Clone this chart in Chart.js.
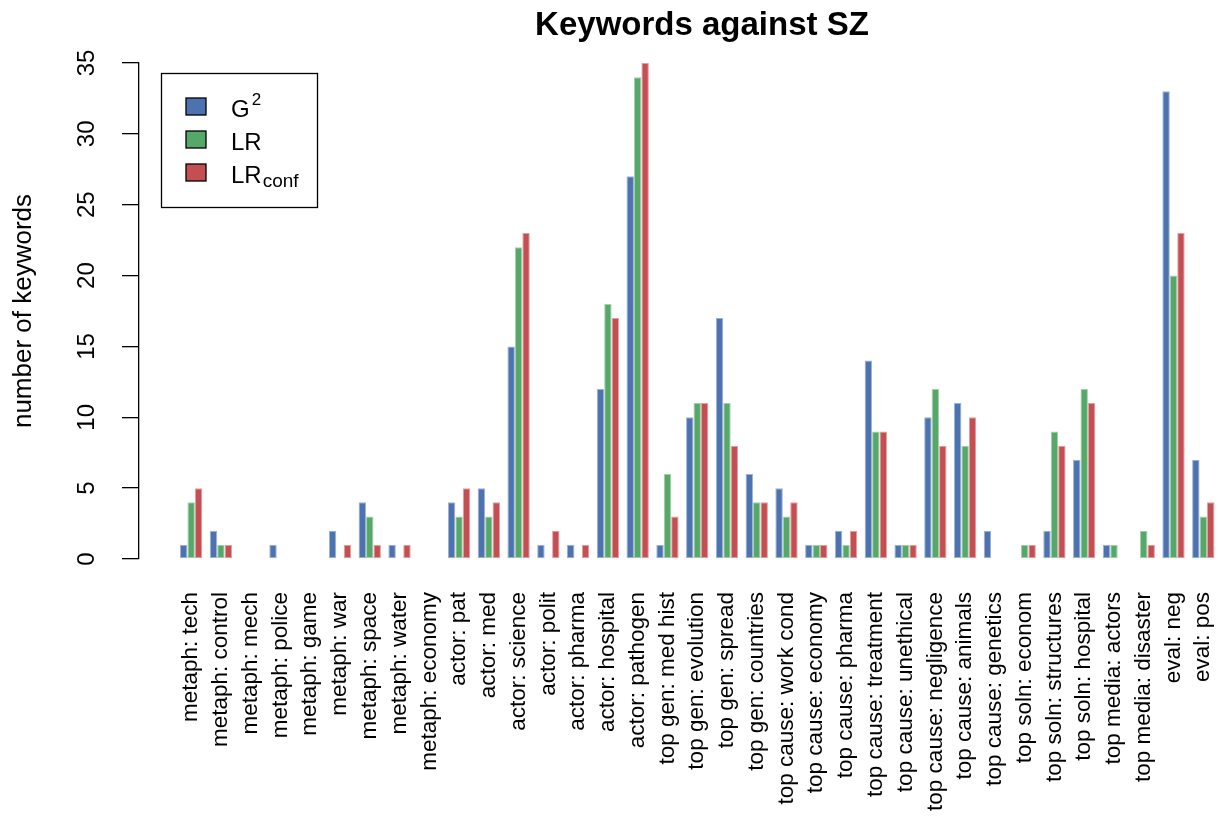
<!DOCTYPE html>
<html>
<head>
<meta charset="utf-8">
<title>Keywords against SZ</title>
<script src="https://cdn.jsdelivr.net/npm/chart.js@4/dist/chart.umd.min.js"></script>
<style>
  html, body { margin: 0; padding: 0; background: #ffffff; overflow: hidden; }
  #wrap { width: 1219px; height: 817px; }
</style>
</head>
<body>
<div id="wrap"><canvas id="chart" width="1219" height="817"></canvas></div>
<script>
// Keyword categories (x axis)
const categories = [
  'metaph: tech', 'metaph: control', 'metaph: mech', 'metaph: police', 'metaph: game',
  'metaph: war', 'metaph: space', 'metaph: water', 'metaph: economy',
  'actor: pat', 'actor: med', 'actor: science', 'actor: polit', 'actor: pharma',
  'actor: hospital', 'actor: pathogen',
  'top gen: med hist', 'top gen: evolution', 'top gen: spread', 'top gen: countries',
  'top cause: work cond', 'top cause: economy', 'top cause: pharma', 'top cause: treatment',
  'top cause: unethical', 'top cause: negligence', 'top cause: animals', 'top cause: genetics',
  'top soln: econom', 'top soln: structures', 'top soln: hospital',
  'top media: actors', 'top media: disaster',
  'eval: neg', 'eval: pos'
];

// Number of keywords per category for each measure
const g2Values     = [1, 2, 0, 1, 0, 2, 4, 1, 0, 4, 5, 15, 1, 1, 12, 27, 1, 10, 17, 6, 5, 1, 2, 14, 1, 10, 11, 2, 0, 2, 7, 1, 0, 33, 7];
const lrValues     = [4, 1, 0, 0, 0, 0, 3, 0, 0, 3, 3, 22, 0, 0, 18, 34, 6, 11, 11, 4, 3, 1, 1, 9, 1, 12, 8, 0, 1, 9, 12, 1, 2, 20, 3];
const lrConfValues = [5, 1, 0, 0, 0, 1, 1, 1, 0, 5, 4, 23, 2, 1, 17, 35, 3, 11, 8, 4, 4, 1, 2, 9, 1, 8, 10, 0, 1, 8, 11, 0, 1, 23, 4];

// Legend entries: main text plus optional superscript / subscript
const seriesNames = [
  { main: 'G', sup: '2' },
  { main: 'LR' },
  { main: 'LR', sub: 'conf' }
];

// Value axis
const yMin = 0;
const yMax = 35;
const yStep = 5;

const chartTitle = 'Keywords against SZ';
const yAxisTitle = 'number of keywords';

const FONT = "'Liberation Sans', Arial, Helvetica, sans-serif";
const COLORS = ['#4C72B0', '#55A868', '#C44E52'];
const EDGES  = ['#9db2d4', '#a3cfad', '#dfa1a1'];

Chart.defaults.font.family = FONT;
Chart.defaults.color = '#000000';

const toPoints = arr => arr.map((v, i) => ({ x: i, y: v }));

// Bold plot title
const plotTitle = {
  id: 'plotTitle',
  afterDraw(chart) {
    const c = chart.ctx;
    c.save();
    c.font = `bold 33px ${FONT}`;
    c.fillStyle = '#000';
    c.textAlign = 'center';
    c.textBaseline = 'alphabetic';
    c.fillText(chartTitle, 702, 35);
    c.restore();
  }
};

// Boxed legend with sub/superscripted labels
const boxLegend = {
  id: 'boxLegend',
  afterDraw(chart) {
    const c = chart.ctx;
    const bx = 161, by = 73, bw = 156, bh = 134;
    c.save();
    c.fillStyle = '#ffffff';
    c.fillRect(bx, by, bw, bh);
    c.lineWidth = 1.3;
    c.strokeStyle = '#000';
    c.strokeRect(bx + 0.5, by + 0.5, bw, bh);
    chart.data.datasets.forEach((ds, i) => {
      const cy = 106.5 + i * 33;
      c.fillStyle = ds.backgroundColor;
      c.fillRect(186, cy - 8.5, 20, 17);
      c.lineWidth = 1.3;
      c.strokeStyle = '#000';
      c.strokeRect(186, cy - 8.5, 20, 17);
      const entry = seriesNames[i];
      const base = cy + 10;
      c.fillStyle = '#000';
      c.textAlign = 'left';
      c.textBaseline = 'alphabetic';
      c.font = `24px ${FONT}`;
      c.fillText(entry.main, 231, base);
      const w = c.measureText(entry.main).width;
      if (entry.sup) {
        c.font = `17px ${FONT}`;
        c.fillText(entry.sup, 231 + w + 2, base - 12);
      }
      if (entry.sub) {
        c.font = `19px ${FONT}`;
        c.fillText(entry.sub, 231 + w + 1, base + 4);
      }
    });
    c.restore();
  }
};

const makeSet = (label, values, i) => ({
  label,
  data: toPoints(values),
  backgroundColor: COLORS[i],
  borderColor: EDGES[i],
  borderWidth: 1,
  borderSkipped: false
});

new Chart(document.getElementById('chart'), {
  type: 'bar',
  data: {
    datasets: [
      makeSet('G2', g2Values, 0),
      makeSet('LR', lrValues, 1),
      makeSet('LRconf', lrConfValues, 2)
    ]
  },
  options: {
    responsive: false,
    animation: false,
    devicePixelRatio: 1,
    categoryPercentage: 0.75,
    barPercentage: 1,
    layout: { padding: { top: 63, left: 0, right: 0, bottom: 0 } },
    plugins: {
      legend: { display: false },
      title: { display: false },
      tooltip: { enabled: false }
    },
    scales: {
      x: {
        type: 'linear',
        bounds: 'data',
        min: -1.752,
        max: 34.528,
        offset: false,
        grid: { display: false, drawTicks: false },
        border: { display: false },
        ticks: {
          autoSkip: false,
          minRotation: 90,
          maxRotation: 90,
          padding: 33,
          font: { size: 22.5 },
          color: '#000',
          callback: v => categories[v] ?? ''
        },
        afterBuildTicks: s => { s.ticks = categories.map((_, i) => ({ value: i })); },
        afterFit: s => { s.height = 258; s.paddingLeft = 0; s.paddingRight = 0; }
      },
      y: {
        min: yMin,
        max: yMax,
        ticks: {
          stepSize: yStep,
          minRotation: 90,
          maxRotation: 90,
          crossAlign: 'center',
          padding: 21,
          font: { size: 24 },
          color: '#000'
        },
        grid: { drawOnChartArea: false, drawTicks: true, tickLength: 17, color: '#000', lineWidth: 1.3 },
        border: { display: true, color: '#000', width: 1.3 },
        title: {
          display: true,
          text: yAxisTitle,
          font: { size: 26 },
          color: '#000',
          padding: { top: 8, bottom: 0 }
        },
        afterFit: s => { s.width = 139; }
      }
    }
  },
  plugins: [plotTitle, boxLegend]
});
</script>
</body>
</html>
